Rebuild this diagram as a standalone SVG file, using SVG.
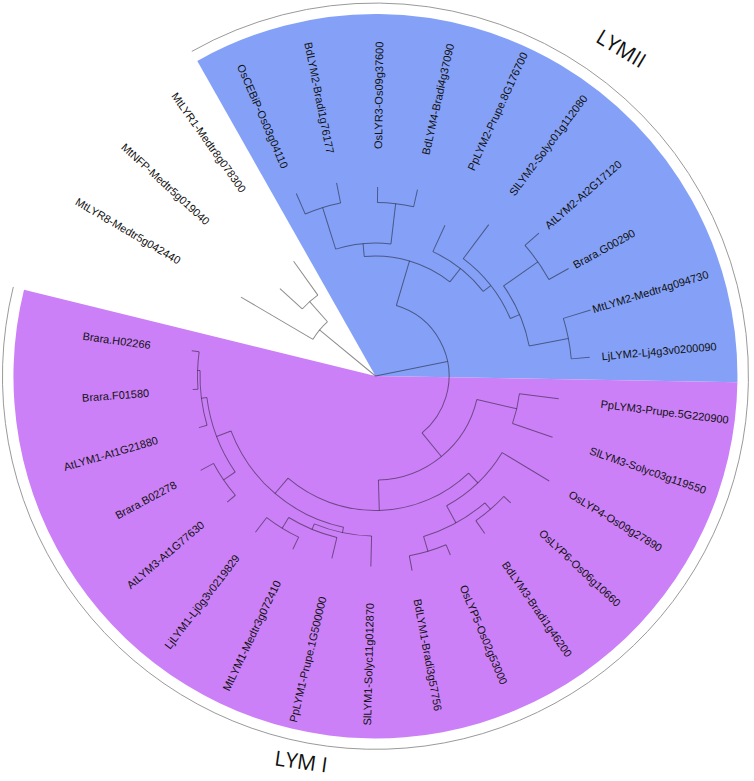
<svg xmlns="http://www.w3.org/2000/svg" width="754" height="781" viewBox="0 0 754 781">
<style>
.rim{fill:none;stroke:#9a9a9a;stroke-width:1}
#connectors line,#connectors circle{fill:none;stroke:#000;stroke-opacity:.45;stroke-width:1}
.lab{font-family:"Liberation Sans",Arial,sans-serif;font-size:11px;fill:#111}
.l{text-anchor:end}
.grp{font-family:"Open Sans","Liberation Sans",sans-serif;font-size:21px;fill:#111;text-anchor:middle}
</style>
<rect width="754" height="781" fill="#fff"/>
<g id="sectors">
<path d="M375.5,376 L197.3,60.9 A362,362 0 0 1 737.4,382.3 Z" fill="#85a1f7"/>
<path d="M375.5,376 L737.4,382.3 A362,362 0 1 1 24.0,289.7 Z" fill="#cb80f7"/>
</g>
<g id="rims">
<path class="rim" d="M191.8,51.4 A373,373 0 0 1 748.4,382.5"/>
<path class="rim" d="M748.4,382.5 A373,373 0 1 1 13.3,287.0"/>
</g>
<g id="connectors" transform="translate(375.5,376)">
<line x1="0" x2="72.5" transform="rotate(-140.56)"/>
<line x1="0" x2="73.5" transform="rotate(-11.4)"/>
<circle r="72.5" pathLength="360" stroke-dasharray="18.075 360" transform="rotate(-149.6)"/>
<line x1="72.5" x2="156" transform="rotate(-149.6)"/>
<line x1="72.5" x2="99.3" transform="rotate(-131.525)"/>
<circle r="99.3" pathLength="360" stroke-dasharray="12.05 360" transform="rotate(-137.55)"/>
<line x1="99.3" x2="129.5" transform="rotate(-137.55)"/>
<line x1="99.3" x2="141" transform="rotate(-125.5)"/>
<circle r="73.5" pathLength="360" stroke-dasharray="124.26 360" transform="rotate(-73.53)"/>
<line x1="73.5" x2="120" transform="rotate(-73.53)"/>
<circle r="120" pathLength="360" stroke-dasharray="43.685 360" transform="rotate(-95.375)"/>
<line x1="120" x2="133" transform="rotate(-95.375)"/>
<circle r="133" pathLength="360" stroke-dasharray="24.1 360" transform="rotate(-107.425)"/>
<line x1="133" x2="176.5" transform="rotate(-107.425)"/>
<circle r="176.5" pathLength="360" stroke-dasharray="12.05 360" transform="rotate(-113.45)"/>
<line x1="176.5" x2="199" transform="rotate(-113.45)"/>
<line x1="176.5" x2="197" transform="rotate(-101.4)"/>
<line x1="133" x2="173.5" transform="rotate(-83.325)"/>
<circle r="173.5" pathLength="360" stroke-dasharray="12.05 360" transform="rotate(-89.35)"/>
<line x1="173.5" x2="189" transform="rotate(-89.35)"/>
<line x1="173.5" x2="191" transform="rotate(-77.3)"/>
<line x1="120" x2="137" transform="rotate(-51.69)"/>
<circle r="137" pathLength="360" stroke-dasharray="27.1125 360" transform="rotate(-65.25)"/>
<line x1="137" x2="166" transform="rotate(-65.25)"/>
<line x1="137" x2="146.5" transform="rotate(-38.1375)"/>
<circle r="146.5" pathLength="360" stroke-dasharray="30.125 360" transform="rotate(-53.2)"/>
<line x1="146.5" x2="189" transform="rotate(-53.2)"/>
<line x1="146.5" x2="156.6" transform="rotate(-23.075)"/>
<circle r="156.6" pathLength="360" stroke-dasharray="24.1 360" transform="rotate(-35.125)"/>
<line x1="156.6" x2="198.5" transform="rotate(-35.125)"/>
<circle r="198.5" pathLength="360" stroke-dasharray="12.05 360" transform="rotate(-41.15)"/>
<line x1="198.5" x2="217" transform="rotate(-41.15)"/>
<line x1="198.5" x2="221" transform="rotate(-29.1)"/>
<line x1="156.6" x2="196.5" transform="rotate(-11.025)"/>
<circle r="196.5" pathLength="360" stroke-dasharray="12.05 360" transform="rotate(-17.05)"/>
<line x1="196.5" x2="225" transform="rotate(-17.05)"/>
<line x1="196.5" x2="215" transform="rotate(-5)"/>
<line x1="73.5" x2="104" transform="rotate(50.73)"/>
<circle r="104" pathLength="360" stroke-dasharray="75.311 360" transform="rotate(13.075)"/>
<line x1="104" x2="145" transform="rotate(13.075)"/>
<circle r="145" pathLength="360" stroke-dasharray="12.05 360" transform="rotate(7.05)"/>
<line x1="145" x2="184.6" transform="rotate(7.05)"/>
<line x1="145" x2="187.4" transform="rotate(19.1)"/>
<line x1="104" x2="134.5" transform="rotate(88.386)"/>
<circle r="134.5" pathLength="360" stroke-dasharray="84.3475 360" transform="rotate(46.2125)"/>
<line x1="134.5" x2="148" transform="rotate(46.2125)"/>
<circle r="148" pathLength="360" stroke-dasharray="30.125 360" transform="rotate(31.15)"/>
<line x1="148" x2="203" transform="rotate(31.15)"/>
<line x1="148" x2="167.5" transform="rotate(61.275)"/>
<circle r="167.5" pathLength="360" stroke-dasharray="24.1 360" transform="rotate(49.225)"/>
<line x1="167.5" x2="176" transform="rotate(49.225)"/>
<circle r="176" pathLength="360" stroke-dasharray="12.05 360" transform="rotate(43.2)"/>
<line x1="176" x2="185.5" transform="rotate(43.2)"/>
<line x1="176" x2="191.7" transform="rotate(55.25)"/>
<line x1="167.5" x2="183" transform="rotate(73.325)"/>
<circle r="183" pathLength="360" stroke-dasharray="12.05 360" transform="rotate(67.3)"/>
<line x1="183" x2="194" transform="rotate(67.3)"/>
<line x1="183" x2="198" transform="rotate(79.35)"/>
<line x1="134.5" x2="154.6" transform="rotate(130.56)"/>
<circle r="154.6" pathLength="360" stroke-dasharray="57.24 360" transform="rotate(101.94)"/>
<line x1="154.6" x2="160" transform="rotate(101.94)"/>
<circle r="160" pathLength="360" stroke-dasharray="21.0875 360" transform="rotate(91.4)"/>
<line x1="160" x2="190.5" transform="rotate(91.4)"/>
<line x1="160" x2="166" transform="rotate(112.4875)"/>
<circle r="166" pathLength="360" stroke-dasharray="18.075 360" transform="rotate(103.45)"/>
<line x1="166" x2="187.5" transform="rotate(103.45)"/>
<line x1="166" x2="178.5" transform="rotate(121.525)"/>
<circle r="178.5" pathLength="360" stroke-dasharray="12.05 360" transform="rotate(115.5)"/>
<line x1="178.5" x2="192" transform="rotate(115.5)"/>
<line x1="178.5" x2="197" transform="rotate(127.55)"/>
<line x1="154.6" x2="170" transform="rotate(159.18)"/>
<circle r="170" pathLength="360" stroke-dasharray="27.115 360" transform="rotate(145.625)"/>
<line x1="170" x2="184" transform="rotate(145.625)"/>
<circle r="184" pathLength="360" stroke-dasharray="12.05 360" transform="rotate(139.6)"/>
<line x1="184" x2="194.7" transform="rotate(139.6)"/>
<line x1="184" x2="198.7" transform="rotate(151.65)"/>
<line x1="170" x2="175.5" transform="rotate(172.74)"/>
<circle r="175.5" pathLength="360" stroke-dasharray="18.075 360" transform="rotate(163.7)"/>
<line x1="175.5" x2="184" transform="rotate(163.7)"/>
<line x1="175.5" x2="178" transform="rotate(181.775)"/>
<circle r="178" pathLength="360" stroke-dasharray="12.05 360" transform="rotate(175.75)"/>
<line x1="178" x2="183.3" transform="rotate(175.75)"/>
<line x1="178" x2="185.5" transform="rotate(187.8)"/>
</g>
<g id="labels" class="lab" transform="translate(375.5,376)">
<g id="n-OsLYR3"><text x="227" dy="4" transform="rotate(-89.35)">OsLYR3-Os09g37600</text></g>
<g id="n-BdLYM4"><text x="227" dy="4" transform="rotate(-77.3)">BdLYM4-Bradi4g37090</text></g>
<g id="n-PpLYM2"><text x="227" dy="4" transform="rotate(-65.25)">PpLYM2-Prupe.8G176700</text></g>
<g id="n-SlLYM2"><text x="227" dy="4" transform="rotate(-53.2)">SlLYM2-Solyc01g112080</text></g>
<g id="n-AtLYM2"><text x="227" dy="4" transform="rotate(-41.15)">AtLYM2-At2G17120</text></g>
<g id="n-BraraG00290"><text x="227" dy="4" transform="rotate(-29.1)">Brara.G00290</text></g>
<g id="n-MtLYM2"><text x="227" dy="4" transform="rotate(-17.05)">MtLYM2-Medtr4g094730</text></g>
<g id="n-LjLYM2"><text x="227" dy="4" transform="rotate(-5)">LjLYM2-Lj4g3v0200090</text></g>
<g id="n-PpLYM3"><text x="227" dy="4" transform="rotate(7.05)">PpLYM3-Prupe.5G220900</text></g>
<g id="n-SlLYM3"><text x="227" dy="4" transform="rotate(19.1)">SlLYM3-Solyc03g119550</text></g>
<g id="n-OsLYP4"><text x="227" dy="4" transform="rotate(31.15)">OsLYP4-Os09g27890</text></g>
<g id="n-OsLYP6"><text x="227" dy="4" transform="rotate(43.2)">OsLYP6-Os06g10660</text></g>
<g id="n-BdLYM3"><text x="227" dy="4" transform="rotate(55.25)">BdLYM3-Bradi1g46200</text></g>
<g id="n-OsLYP5"><text x="227" dy="4" transform="rotate(67.3)">OsLYP5-Os02g53000</text></g>
<g id="n-BdLYM1"><text x="227" dy="4" transform="rotate(79.35)">BdLYM1-Bradi3g57756</text></g>
<g id="n-SlLYM1"><text class="l" x="-227" dy="4" transform="rotate(271.4)">SlLYM1-Solyc11g012870</text></g>
<g id="n-PpLYM1"><text class="l" x="-227" dy="4" transform="rotate(283.45)">PpLYM1-Prupe.1G500000</text></g>
<g id="n-MtLYM1"><text class="l" x="-227" dy="4" transform="rotate(295.5)">MtLYM1-Medtr3g072410</text></g>
<g id="n-LjLYM1"><text class="l" x="-227" dy="4" transform="rotate(307.55)">LjLYM1-Lj0g3v0219829</text></g>
<g id="n-AtLYM3"><text class="l" x="-227" dy="4" transform="rotate(319.6)">AtLYM3-At1G77630</text></g>
<g id="n-BraraB02278"><text class="l" x="-227" dy="4" transform="rotate(331.65)">Brara.B02278</text></g>
<g id="n-AtLYM1"><text class="l" x="-227" dy="4" transform="rotate(343.7)">AtLYM1-At1G21880</text></g>
<g id="n-BraraF01580"><text class="l" x="-227" dy="4" transform="rotate(355.75)">Brara.F01580</text></g>
<g id="n-BraraH02266"><text class="l" x="-227" dy="4" transform="rotate(7.8)">Brara.H02266</text></g>
<g id="n-MtLYR8"><text class="l" x="-227" dy="4" transform="rotate(30.4)">MtLYR8-Medtr5g042440</text></g>
<g id="n-MtNFP"><text class="l" x="-227" dy="4" transform="rotate(42.45)">MtNFP-Medtr5g019040</text></g>
<g id="n-MtLYR1"><text class="l" x="-227" dy="4" transform="rotate(54.5)">MtLYR1-Medtr8g078300</text></g>
<g id="n-OsCEBiP"><text class="l" x="-227" dy="4" transform="rotate(66.55)">OsCEBiP-Os03g04110</text></g>
<g id="n-BdLYM2"><text class="l" x="-227" dy="4" transform="rotate(78.6)">BdLYM2-Bradi1g76177</text></g>
</g>
<g id="group-labels" class="grp">
<text x="621" y="56" transform="rotate(31 621 49)">LYMII</text>
<text x="301" y="769" transform="rotate(8 301 762)">LYM I</text>
</g>
</svg>
